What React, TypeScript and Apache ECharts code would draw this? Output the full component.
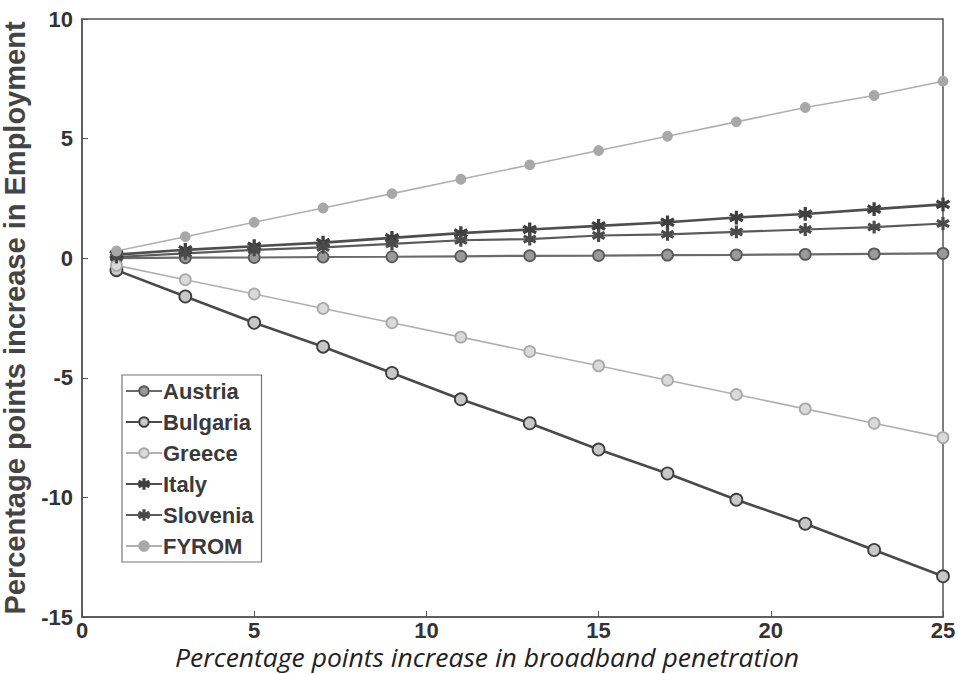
import React, { useEffect, useRef } from "react";
import * as echarts from "echarts";

// Broadband penetration increase (percentage points)
const xValues = [1, 3, 5, 7, 9, 11, 13, 15, 17, 19, 21, 23, 25];

// Employment change (percentage points) per country
const austria = [0.0, 0.02, 0.03, 0.05, 0.06, 0.08, 0.1, 0.11, 0.13, 0.14, 0.16, 0.18, 0.2];
const bulgaria = [-0.5, -1.6, -2.7, -3.7, -4.8, -5.9, -6.9, -8.0, -9.0, -10.1, -11.1, -12.2, -13.3];
const greece = [-0.3, -0.9, -1.5, -2.1, -2.7, -3.3, -3.9, -4.5, -5.1, -5.7, -6.3, -6.9, -7.5];
const italy = [0.15, 0.35, 0.5, 0.65, 0.85, 1.05, 1.2, 1.35, 1.5, 1.7, 1.85, 2.05, 2.25];
const slovenia = [0.05, 0.2, 0.35, 0.45, 0.6, 0.75, 0.8, 0.95, 1.0, 1.1, 1.2, 1.3, 1.45];
const fyrom = [0.3, 0.9, 1.5, 2.1, 2.7, 3.3, 3.9, 4.5, 5.1, 5.7, 6.3, 6.8, 7.4];

const xTicks = [0, 5, 10, 15, 20, 25];
const yTicks = [-15, -10, -5, 0, 5, 10];

const xTitle = "Percentage points increase in broadband penetration";
const yTitle = "Percentage points increase in Employment";

const STAR =
  "path://M4.5,0 L5.5,0 L5.5,3.6 L8.6,1.8 L9.1,2.7 L6,4.5 L9.1,6.3 L8.6,7.2 L5.5,5.4 L5.5,9 L4.5,9 L4.5,5.4 L1.4,7.2 L0.9,6.3 L4,4.5 L0.9,2.7 L1.4,1.8 L4.5,3.6 Z";

const pairs = (ys: number[]) => xValues.map((x, i) => [x, ys[i]]);

type Spec = {
  name: string;
  data: number[];
  line: string;
  width: number;
  symbol: string;
  size: number;
  fill: string;
  border: string;
};

const specs: Spec[] = [
  { name: "Austria", data: austria, line: "#6a6a6a", width: 2.2, symbol: "circle", size: 11, fill: "#9a9a9a", border: "#5a5a5a" },
  { name: "Bulgaria", data: bulgaria, line: "#4a4a4a", width: 2.6, symbol: "circle", size: 12, fill: "#c8c8c8", border: "#3f3f3f" },
  { name: "Greece", data: greece, line: "#b0b0b0", width: 1.6, symbol: "circle", size: 11, fill: "#dadada", border: "#aaaaaa" },
  { name: "Italy", data: italy, line: "#4e4e4e", width: 2.6, symbol: STAR, size: 12, fill: "#3e3e3e", border: "#3e3e3e" },
  { name: "Slovenia", data: slovenia, line: "#5a5a5a", width: 2.2, symbol: STAR, size: 11, fill: "#4a4a4a", border: "#4a4a4a" },
  { name: "FYROM", data: fyrom, line: "#b0b0b0", width: 1.6, symbol: "circle", size: 9, fill: "#a8a8a8", border: "#a8a8a8" },
];

export default function App() {
  const ref = useRef<HTMLDivElement>(null);

  useEffect(() => {
    if (!ref.current) return;
    const chart = echarts.init(ref.current, null, { renderer: "svg" });
    const tickFont = {
      color: "#333",
      fontFamily: "Liberation Sans, Arial, sans-serif",
      fontWeight: "bold" as const,
      fontSize: 22,
      lineHeight: 22,
    };
    chart.setOption({
      animation: false,
      backgroundColor: "#ffffff",
      grid: {
        left: 82,
        right: 22,
        top: 19,
        bottom: 57,
        outerBoundsMode: "none",
        containLabel: false,
        show: true,
        borderColor: "#555",
        borderWidth: 1.5,
        backgroundColor: "transparent",
      },
      legend: {
        orient: "vertical",
        left: 122,
        top: 375,
        itemGap: 9,
        itemWidth: 36,
        itemHeight: 12,
        padding: [5, 8, 5, 3],
        borderColor: "#777",
        borderWidth: 1.2,
        backgroundColor: "#fff",
        textStyle: { ...tickFont, fontSize: 22, color: "#3a3a3a", padding: [0, 0, 0, -4] },
        data: specs.map((s) => s.name),
      },
      graphic: [
        {
          type: "text",
          left: 175,
          top: 645,
          scaleX: 1.06,
          silent: true,
          style: {
            text: xTitle,
            fill: "#222",
            fontFamily: "Open Sans, sans-serif",
            fontStyle: "italic",
            fontSize: 25,
            lineHeight: 24,
          },
        },
      ],
      xAxis: {
        type: "value",
        min: 0,
        max: 25,
        interval: 5,
        axisLine: { show: true, onZero: false, lineStyle: { color: "#555", width: 1.5 } },
        axisTick: { show: true, inside: true, length: 6, lineStyle: { color: "#555" } },
        axisLabel: {
          ...tickFont,
          margin: 2,
          customValues: xTicks,
          formatter: (v: number) => String(v),
        },
        splitLine: { show: false },
      },
      yAxis: {
        type: "value",
        min: -15,
        max: 10,
        interval: 5,
        name: yTitle,
        nameLocation: "middle",
        nameGap: 47,
        nameTextStyle: {
          color: "#444",
          fontFamily: "Liberation Sans, Arial, sans-serif",
          fontWeight: "bold",
          fontSize: 29,
          lineHeight: 30,
        },
        axisLine: { show: true, onZero: false, lineStyle: { color: "#555", width: 1.5 } },
        axisTick: { show: true, inside: true, length: 6, lineStyle: { color: "#555" } },
        axisLabel: {
          ...tickFont,
          margin: 9,
          customValues: yTicks,
          formatter: (v: number) => String(v),
        },
        splitLine: { show: false },
      },
      series: specs.map((s) => ({
        name: s.name,
        type: "line",
        data: pairs(s.data),
        symbol: s.symbol,
        symbolSize: s.size,
        showSymbol: true,
        lineStyle: { color: s.line, width: s.width },
        itemStyle: { color: s.fill, borderColor: s.border, borderWidth: 1.8 },
        emphasis: { disabled: true },
      })),
    });
    return () => chart.dispose();
  }, []);

  return (
    <div
      ref={ref}
      style={{ position: "fixed", left: 0, top: 0, width: 965, height: 674, background: "#fff" }}
    />
  );
}
